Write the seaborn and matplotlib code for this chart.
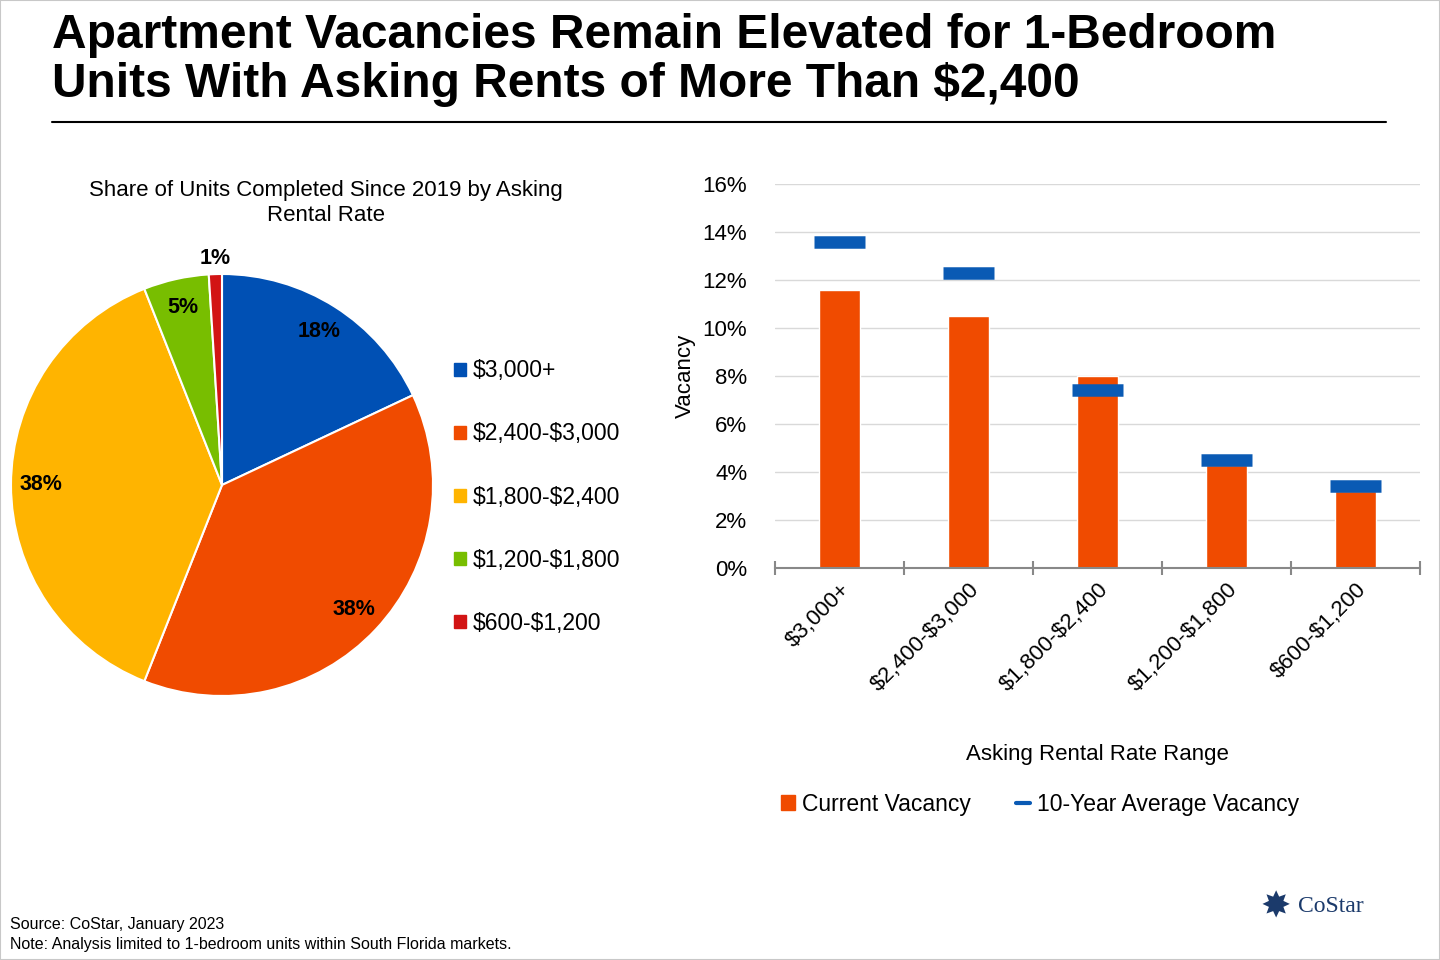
import numpy as np
import pandas as pd
import matplotlib
matplotlib.use("Agg")
import matplotlib.pyplot as plt
import seaborn as sns
from matplotlib.lines import Line2D
from matplotlib.patches import Patch, Rectangle

# data
ranges = ["$3,000+", "$2,400-$3,000", "$1,800-$2,400", "$1,200-$1,800", "$600-$1,200"]
share = [18, 38, 38, 5, 1]
current_vac = [11.6, 10.5, 8.0, 4.3, 3.2]
avg_vac = [13.6, 12.3, 7.4, 4.5, 3.4]
pie_colors = ["#0050B4", "#F04B00", "#FFB400", "#78BE00", "#D21414"]

sns.set_theme(style="white")
plt.rcParams['font.family'] = ['Liberation Sans', 'DejaVu Sans']
plt.rcParams['text.parse_math'] = False
plt.rcParams['text.color'] = 'black'
plt.rcParams['axes.labelcolor'] = 'black'
plt.rcParams['xtick.color'] = 'black'
plt.rcParams['ytick.color'] = 'black'

W, H = 1440, 960
fig = plt.figure(figsize=(14.4, 9.6), dpi=100)

def px(x0, y0, x1, y1):
    return [x0 / W, 1 - y1 / H, (x1 - x0) / W, (y1 - y0) / H]

fig.patches.append(Rectangle((0, 0), 1, 1, transform=fig.transFigure, fill=False,
                             edgecolor="#c8c8c8", lw=1.5))
fig.text(52 / W, 1 - 60 / H, "Apartment Vacancies Remain Elevated for 1-Bedroom\nUnits With Asking Rents of More Than $2,400",
         fontsize=34.5, fontweight="bold", va="center", ha="left", linespacing=1.1)
fig.add_artist(Line2D([52 / W, 1386 / W], [1 - 122 / H] * 2, color="black", lw=1.5))

# pie
axp = fig.add_axes(px(11, 274, 433, 696))
wedges, texts, autotexts = axp.pie(share, colors=pie_colors, startangle=90, counterclock=False,
                                   autopct="%d%%", pctdistance=0.86,
                                   wedgeprops=dict(edgecolor="white", linewidth=1.5),
                                   textprops=dict(fontsize=15.5, fontweight="bold", color="black"))
x, y = autotexts[4].get_position()
autotexts[4].set_position((x * 1.25, y * 1.25))
axp.set_xlim(-1, 1)
axp.set_ylim(-1, 1)
axp.set_aspect("equal")
fig.text(326 / W, 1 - 203 / H, "Share of Units Completed Since 2019 by Asking\nRental Rate", fontsize=16,
         ha="center", va="center")
handles = [Patch(color=c, label=r) for c, r in zip(pie_colors, ranges)]
fig.legend(handles=handles, loc="center left", bbox_to_anchor=(445 / W, 1 - 497 / H), frameon=False,
           fontsize=16.5, handlelength=0.5, handleheight=0.5, handletextpad=0.3, labelspacing=1.75,
           borderaxespad=0)

# bars
axb = fig.add_axes(px(775, 184, 1420, 568))
df = pd.DataFrame({"range": ranges, "current": current_vac, "avg": avg_vac})
sns.barplot(data=df, x="range", y="current", color="#F04B00", width=0.32, ax=axb, saturation=1)
axb.hlines(df["avg"], np.arange(len(df)) - 0.2, np.arange(len(df)) + 0.2, color="#0A5AB4", lw=9)
axb.set_ylim(0, 16)
axb.set_xlim(-0.5, 4.5)
axb.set_yticks(range(0, 17, 2))
axb.set_yticklabels([f"{v}%" for v in range(0, 17, 2)], fontsize=16)
axb.yaxis.grid(True, color="#d9d9d9", lw=1)
axb.set_axisbelow(True)
for s in ["top", "right", "left"]:
    axb.spines[s].set_visible(False)
axb.spines["bottom"].set_color("#888888")
axb.spines["bottom"].set_linewidth(1.5)
axb.set_xticks(np.arange(len(df)))
axb.set_xticklabels(ranges, rotation=45, ha="right", rotation_mode="anchor", fontsize=16)
axb.tick_params(axis="x", length=0, pad=8)
axb.tick_params(axis="y", length=0, pad=20)
axb.set_xticks(np.arange(-0.5, 4.6, 1), minor=True)
axb.tick_params(axis="x", which="minor", bottom=True, length=10, direction="inout", color="#888888", width=1.5)
axb.set_xlabel("Asking Rental Rate Range", fontsize=16, labelpad=35)
axb.set_ylabel("Vacancy", fontsize=16, labelpad=5)

leg_h = [Patch(color="#F04B00", label="Current Vacancy"),
         Line2D([], [], color="#0A5AB4", lw=3, label="10-Year Average Vacancy")]
fig.legend(handles=leg_h, loc="center", bbox_to_anchor=(1040 / W, 1 - 804 / H), ncol=2, frameon=False,
           fontsize=16.5, handlelength=0.6, handleheight=0.6, handletextpad=0.3, columnspacing=2)

fig.text(10 / W, 1 - 925 / H, "Source: CoStar, January 2023", fontsize=11.5, va="center")
fig.text(10 / W, 1 - 945 / H, "Note: Analysis limited to 1-bedroom units within South Florida markets.", fontsize=11.5, va="center")
fig.text(1276 / W, 1 - 907 / H, "\u2738", fontsize=26, color="#1B3A6B", ha="center", va="center",
         family=["DejaVu Sans"])
fig.text(1298 / W, 1 - 907 / H, "CoStar", fontsize=17, color="#1B3A6B", va="center", family=["Liberation Serif"])

fig.savefig("out.png", dpi=100)
